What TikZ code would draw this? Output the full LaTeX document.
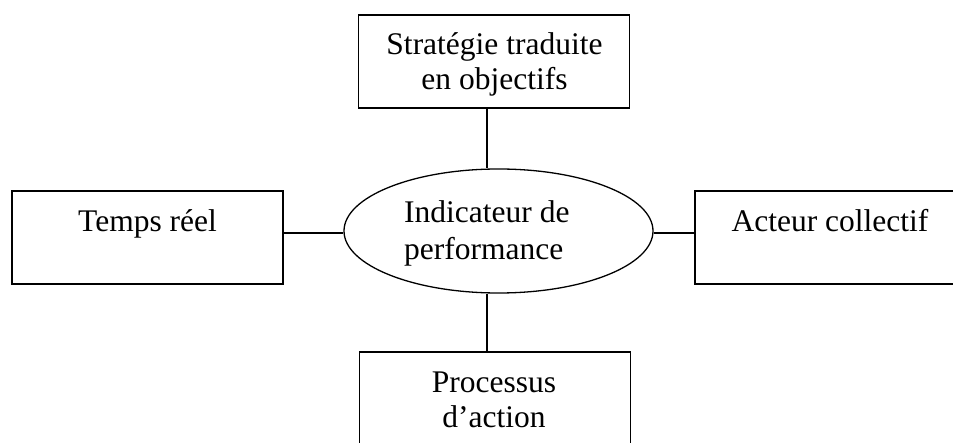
\documentclass[tikz,border=0pt]{standalone}
\usepackage{fontspec}
\setmainfont{Liberation Serif}
\usetikzlibrary{shapes.geometric}
\begin{document}
\begin{tikzpicture}[x=1pt,y=-1pt,
  boxnode/.style={draw,line width=1.5pt,rectangle,inner sep=0pt,minimum width=271pt,minimum height=93pt},
  ellnode/.style={draw,line width=1.3pt,ellipse,inner sep=0pt,minimum width=309pt,minimum height=124pt},
  txt/.style={anchor=base,inner sep=0pt,font=\fontsize{31.5}{36}\selectfont},
  txtl/.style={anchor=base west,inner sep=0pt,font=\fontsize{31.5}{36}\selectfont},
  link/.style={line width=1.2pt}]
\useasboundingbox (0,0) rectangle (953,443);
\node[boxnode] (T) at (494,61.5) {};
\node[boxnode] (L) at (147.5,237.5) {};
\node[boxnode] (R) at (830.5,237.5) {};
\node[boxnode] (B) at (495,398.5) {};
\node[ellnode] (E) at (498.5,231) {};
\node[txt] (t1) at (494.5,55) {Stratégie traduite};
\node[txt] (t2) at (494.5,90) {en objectifs};
\node[txt] (l1) at (147.5,232) {Temps réel};
\node[txt] (r1) at (830,232) {Acteur collectif};
\node[txt] (b1) at (494,392) {Processus};
\node[txt] (b2) at (494,428) {d’action};
\node[txtl] (e1) at (404,223) {Indicateur de};
\node[txtl] (e2) at (404,260) {performance};
\draw[link] ([xshift=-7pt]T.south) -- ([xshift=-11.5pt]E.north);
\draw[link] ([xshift=-11.5pt]E.south) -- ([xshift=-8pt]B.north);
\draw[link] ([yshift=4.5pt]L.east) -- ([yshift=-2pt]E.west);
\draw[link] ([yshift=-2pt]E.east) -- ([yshift=4.5pt]R.west);
\end{tikzpicture}
\end{document}
